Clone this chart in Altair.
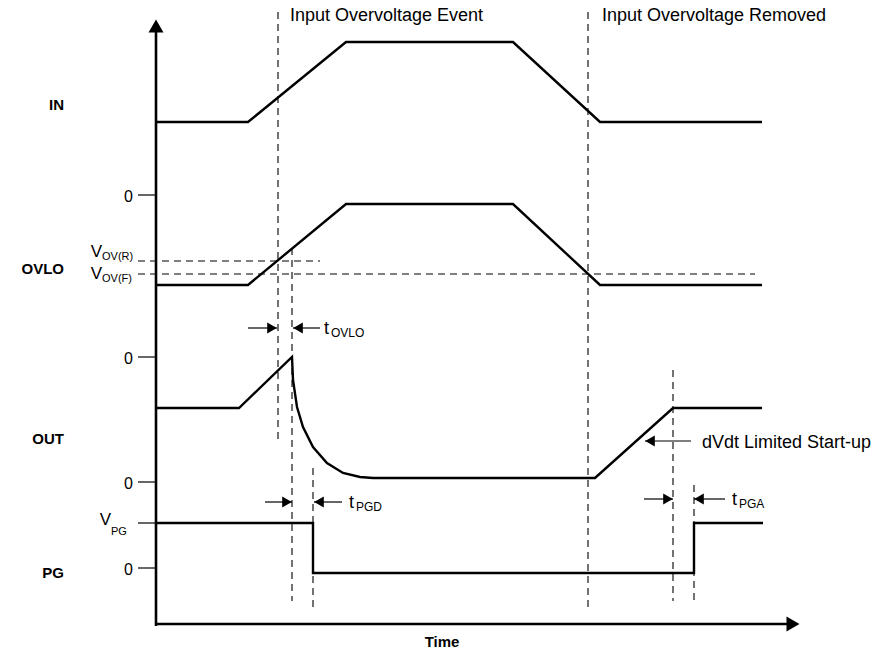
import altair as alt
import pandas as pd

# ---- waveform data: t = time units from the vertical axis, v = level units above the time axis ----
IN_T = [0, 92, 190, 357, 444, 606]
IN_V = [502, 502, 582, 582, 502, 502]

OVLO_T = [0, 92, 190, 357, 444, 606]
OVLO_V = [339, 339, 420, 420, 339, 339]

OUT_T = [0, 83, 136, 137, 141, 147, 157, 171, 187, 204, 217, 439, 517, 606]
OUT_V = [216, 216, 267, 244, 217, 197, 177, 161, 151, 147, 146, 146, 216, 216]

PG_T = [0, 157, 157, 538, 538, 607]
PG_V = [101, 101, 51, 51, 101, 101]

# thresholds on OVLO (dashed horizontal lines)
THR_V = [363, 350]
THR_END = [164, 599]

# vertical dashed event markers
MARK_T = [122, 136, 157, 432, 517, 538]
MARK_TOP = [612, 376, 156, 612, 254, 139]
MARK_BOT = [184, 23, 12, 17, 23, 23]

# y-axis ticks
TICK_V = [429, 267, 142, 101, 56]
ZERO_V = [429, 267, 142, 56]

# row labels
ROW_LABELS = ["IN", "OVLO", "OUT", "PG"]
ROW_V = [514, 350, 180, 46]

# timing arrows: tip time, tail time, level
ARROW_TIP = [121, 137, 136, 158, 517, 538, 489]
ARROW_TAIL = [92, 164, 109, 186, 488, 569, 535]
ARROW_V = [296, 296, 122, 122, 125, 125, 183]

# event captions
EVENT_LABELS = ["Input Overvoltage Event", "Input Overvoltage Removed"]
EVENT_T = [134, 446]

FONT = "Liberation Sans"
xs = alt.Scale(domain=[-148, 716], nice=False, zero=False)
ys = alt.Scale(domain=[-25, 616], nice=False, zero=False)


def X(f="t"):
    return alt.X(f, type="quantitative", scale=xs, axis=None)


def Y(f="v"):
    return alt.Y(f, type="quantitative", scale=ys, axis=None)


layers = []

# signals
sig_rows = []
for name, ts, vs in [("IN", IN_T, IN_V), ("OVLO", OVLO_T, OVLO_V),
                     ("OUT", OUT_T, OUT_V), ("PG", PG_T, PG_V)]:
    for i, (t, v) in enumerate(zip(ts, vs)):
        sig_rows.append({"sig": name, "i": i, "t": t, "v": v})
sig_df = pd.DataFrame(sig_rows)
layers.append(
    alt.Chart(sig_df).mark_line(color="black", strokeWidth=2.4, strokeJoin="miter")
    .encode(x=X(), y=Y(), detail="sig:N", order="i:Q")
)

# threshold dashed lines
thr_df = pd.DataFrame({"t0": [-18, -18], "t1": THR_END, "v": THR_V})
layers.append(
    alt.Chart(thr_df).mark_rule(color="black", strokeWidth=1.1, strokeDash=[7, 5])
    .encode(x=X("t0"), x2="t1", y=Y())
)

# vertical dashed markers
mk_df = pd.DataFrame({"t": MARK_T, "v0": MARK_TOP, "v1": MARK_BOT})
layers.append(
    alt.Chart(mk_df).mark_rule(color="black", strokeWidth=1.1, strokeDash=[7, 5])
    .encode(x=X(), y=Y("v0"), y2="v1")
)

# axes
axv_df = pd.DataFrame({"t": [0], "v0": [-2], "v1": [592]})
layers.append(
    alt.Chart(axv_df).mark_rule(color="black", strokeWidth=2.6)
    .encode(x=X(), y=Y("v0"), y2="v1")
)
axh_df = pd.DataFrame({"t0": [-1], "t1": [632], "v": [0]})
layers.append(
    alt.Chart(axh_df).mark_rule(color="black", strokeWidth=2.6)
    .encode(x=X("t0"), x2="t1", y=Y())
)
layers.append(
    alt.Chart(pd.DataFrame({"t": [0], "v": [598]}))
    .mark_point(shape="triangle-up", filled=True, size=225, color="black", opacity=1, strokeWidth=0)
    .encode(x=X(), y=Y())
)
layers.append(
    alt.Chart(pd.DataFrame({"t": [637], "v": [0]}))
    .mark_point(shape="triangle-right", filled=True, size=225, color="black", opacity=1, strokeWidth=0)
    .encode(x=X(), y=Y())
)

# ticks
tick_df = pd.DataFrame({"t0": [-18] * len(TICK_V), "t1": [0] * len(TICK_V), "v": TICK_V})
layers.append(
    alt.Chart(tick_df).mark_rule(color="black", strokeWidth=1.2)
    .encode(x=X("t0"), x2="t1", y=Y())
)

# timing arrows (shafts + heads)
HEAD = 5
arr_rows = []
head_r, head_l = [], []
for tip, tail, v in zip(ARROW_TIP, ARROW_TAIL, ARROW_V):
    arr_rows.append({"t0": tail, "t1": tip, "v": v})
    if tip > tail:
        head_r.append({"t": tip - HEAD, "v": v})
    else:
        head_l.append({"t": tip + HEAD, "v": v})
layers.append(
    alt.Chart(pd.DataFrame(arr_rows)).mark_rule(color="black", strokeWidth=1.2)
    .encode(x=X("t0"), x2="t1", y=Y())
)
layers.append(
    alt.Chart(pd.DataFrame(head_r))
    .mark_point(shape="triangle-right", filled=True, size=125, color="black", opacity=1, strokeWidth=0)
    .encode(x=X(), y=Y())
)
layers.append(
    alt.Chart(pd.DataFrame(head_l))
    .mark_point(shape="triangle-left", filled=True, size=125, color="black", opacity=1, strokeWidth=0)
    .encode(x=X(), y=Y())
)


def text_layer(ts, vs, labels, size, align="left", weight="normal"):
    df = pd.DataFrame({"t": ts, "v": vs, "label": labels})
    return (
        alt.Chart(df)
        .mark_text(align=align, baseline="alphabetic", fontSize=size, font=FONT,
                   fontWeight=weight, color="black")
        .encode(x=X(), y=Y(), text="label:N")
    )


# row labels and time label
layers.append(text_layer([-92] * 4, ROW_V, ROW_LABELS, 15, align="right", weight="bold"))
layers.append(text_layer([286], [-23], ["Time"], 15, align="center", weight="bold"))

# tick labels
layers.append(text_layer([-23] * len(ZERO_V), [v - 7 for v in ZERO_V], ["0"] * len(ZERO_V), 16, align="right"))
layers.append(text_layer([-54, -54, -45], [367, 345, 99], ["V", "V", "V"], 17, align="right"))
layers.append(text_layer([-54, -54, -45], [364, 342, 89], ["OV(R)", "OV(F)", "PG"], 11))

# event captions
layers.append(text_layer(EVENT_T, [603, 603], EVENT_LABELS, 18))
layers.append(text_layer([546], [176], ["dVdt Limited Start-up"], 18))

# timing labels with subscripts
layers.append(text_layer([168, 193, 576], [290, 116, 119], ["t", "t", "t"], 18))
layers.append(text_layer([175, 200, 583], [287, 113, 116], ["OVLO", "PGD", "PGA"], 12))

chart = (
    alt.layer(*layers)
    .properties(width=864, height=641, autosize=alt.AutoSizeParams(type="none"), padding=0)
    .configure_view(stroke=None)
)

chart.save("out.html", embed_options={"renderer": "svg", "actions": False})
